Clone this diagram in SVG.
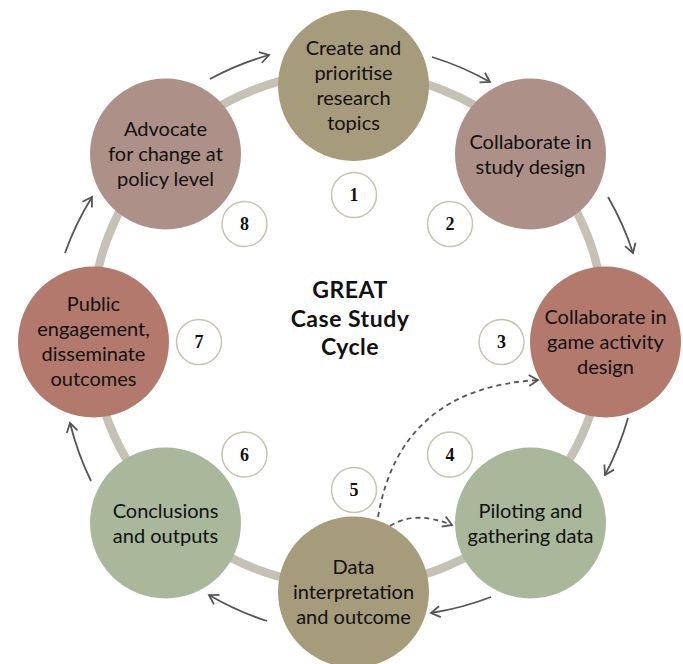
<svg xmlns="http://www.w3.org/2000/svg" width="683" height="664" viewBox="0 0 683 664">
<defs>
<style>
.ring{fill:none;stroke:#c6c1b5;stroke-width:8.5}
.c-olive{fill:#a69b7b}
.c-mauve{fill:#ad9087}
.c-terra{fill:#b3796d}
.c-sage{fill:#a9b89b}
.lbl{font-family:Lato,"Open Sans",sans-serif;font-size:20px;fill:#111;text-anchor:middle}
.title{font-family:Lato,"Open Sans",sans-serif;font-size:23px;font-weight:bold;fill:#111;text-anchor:middle;letter-spacing:0.5px}
.numc{fill:#fff;stroke:#c8c2b4;stroke-width:1.5}
.num{font-family:"Liberation Serif","Times New Roman",serif;font-size:18px;font-weight:bold;fill:#111;text-anchor:middle}
.arr{fill:none;stroke:#555;stroke-width:1.8;marker-end:url(#head)}
.dash{fill:none;stroke:#555;stroke-width:1.8;stroke-dasharray:5 4;marker-end:url(#head)}
</style>
<marker id="head" markerUnits="userSpaceOnUse" markerWidth="14" markerHeight="14" viewBox="-11 -7 14 14" refX="0" refY="0" orient="auto">
<path d="M-9,-5.5 L0,0 L-9,5.5" fill="none" stroke="#555" stroke-width="1.8"/>
</marker>
</defs>
<rect width="683" height="664" fill="#fff"/>
<circle class="ring" cx="348" cy="329" r="257"/>
<g id="connectors">
<path class="arr" d="M210,79 A288,288 0 0 1 269,55"/>
<path class="arr" d="M432,57 A288,288 0 0 1 490,82"/>
<path class="arr" d="M608,197 A290,290 0 0 1 633,253"/>
<path class="arr" d="M628,418 A290,290 0 0 1 605,475"/>
<path class="arr" d="M491,597 A290,290 0 0 1 431,613"/>
<path class="arr" d="M267,621 A290,290 0 0 1 209,595"/>
<path class="arr" d="M91,481 A290,290 0 0 1 70,423"/>
<path class="arr" d="M65,253 A290,290 0 0 1 92,197"/>
<path class="dash" d="M378,517 Q400,388 538,380"/>
<path class="dash" d="M390,526 Q415,510 452,525"/>
</g>
<g id="node1">
<circle class="c-olive" cx="353.5" cy="85.5" r="75.5"/>
<text class="lbl" x="353.5" y="55">Create and</text>
<text class="lbl" x="353.5" y="80">prioritise</text>
<text class="lbl" x="353.5" y="105">research</text>
<text class="lbl" x="353.5" y="130">topics</text>
</g>
<g id="node2">
<circle class="c-mauve" cx="530.5" cy="154" r="75.5"/>
<text class="lbl" x="530.5" y="148.5">Collaborate in</text>
<text class="lbl" x="530.5" y="173.5">study design</text>
</g>
<g id="node3">
<circle class="c-terra" cx="605.5" cy="342" r="75.5"/>
<text class="lbl" x="605.5" y="324">Collaborate in</text>
<text class="lbl" x="605.5" y="349">game activity</text>
<text class="lbl" x="605.5" y="374">design</text>
</g>
<g id="node4">
<circle class="c-sage" cx="530.5" cy="523" r="75.5"/>
<text class="lbl" x="530.5" y="517.5">Piloting and</text>
<text class="lbl" x="530.5" y="542.5">gathering data</text>
</g>
<g id="node5">
<circle class="c-olive" cx="353.5" cy="592" r="75.5"/>
<text class="lbl" x="353.5" y="574">Data</text>
<text class="lbl" x="353.5" y="599">interpretation</text>
<text class="lbl" x="353.5" y="624">and outcome</text>
</g>
<g id="node6">
<circle class="c-sage" cx="165.5" cy="523" r="75.5"/>
<text class="lbl" x="165.5" y="517.5">Conclusions</text>
<text class="lbl" x="165.5" y="542.5">and outputs</text>
</g>
<g id="node7">
<circle class="c-terra" cx="93.5" cy="342" r="75.5"/>
<text class="lbl" x="93.5" y="311">Public</text>
<text class="lbl" x="93.5" y="336">engagement,</text>
<text class="lbl" x="93.5" y="361">disseminate</text>
<text class="lbl" x="93.5" y="386">outcomes</text>
</g>
<g id="node8">
<circle class="c-mauve" cx="165.5" cy="154" r="75.5"/>
<text class="lbl" x="165.5" y="136">Advocate</text>
<text class="lbl" x="165.5" y="161">for change at</text>
<text class="lbl" x="165.5" y="186">policy level</text>
</g>
<g id="title">
<text class="title" x="350" y="298">GREAT</text>
<text class="title" x="350" y="326.5">Case Study</text>
<text class="title" x="350" y="355">Cycle</text>
</g>
<g id="numbers">
<circle class="numc" cx="354" cy="195" r="22.5"/><text class="num" x="354" y="201">1</text>
<circle class="numc" cx="450" cy="224" r="22.5"/><text class="num" x="450" y="230">2</text>
<circle class="numc" cx="501.5" cy="342" r="22.5"/><text class="num" x="501.5" y="348">3</text>
<circle class="numc" cx="450" cy="454.5" r="22.5"/><text class="num" x="450" y="460.5">4</text>
<circle class="numc" cx="354" cy="490" r="22.5"/><text class="num" x="354" y="496">5</text>
<circle class="numc" cx="244.5" cy="454.5" r="22.5"/><text class="num" x="244.5" y="460.5">6</text>
<circle class="numc" cx="199" cy="342" r="22.5"/><text class="num" x="199" y="348">7</text>
<circle class="numc" cx="244.5" cy="224" r="22.5"/><text class="num" x="244.5" y="230">8</text>
</g>
</svg>
